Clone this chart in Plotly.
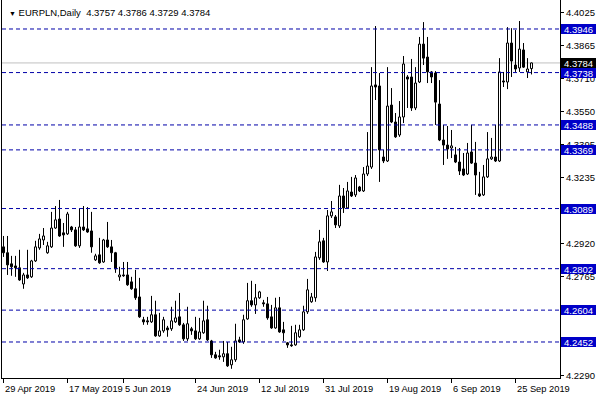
import plotly.graph_objects as go

# ---- data ----
opens = [4.2906, 4.2878, 4.2825, 4.2815, 4.2806, 4.2729, 4.2772, 4.2763, 4.2839, 4.2901,
         4.2939, 4.2878, 4.2906, 4.2996, 4.3039, 4.2973, 4.2968, 4.3001, 4.2987, 4.2911,
         4.3001, 4.2992, 4.2982, 4.2844, 4.2868, 4.2834, 4.2939, 4.2906, 4.2878, 4.2763,
         4.2772, 4.2772, 4.2739, 4.2706, 4.2667, 4.2558, 4.2553, 4.2548, 4.2582, 4.2481,
         4.2505, 4.2519, 4.2515, 4.2548, 4.2572, 4.2534, 4.2467, 4.2515, 4.2505, 4.2467,
         4.2496, 4.2558, 4.2457, 4.2391, 4.2386, 4.2381, 4.2396, 4.2343, 4.2367, 4.2462,
         4.2452, 4.2562, 4.2649, 4.2629, 4.2663, 4.2639, 4.2634, 4.2572, 4.2519, 4.2615,
         4.2510, 4.2448, 4.2438, 4.2438, 4.2477, 4.2510, 4.2596, 4.2644, 4.2663, 4.2854,
         4.2935, 4.2834, 4.3054, 4.3049, 4.3006, 4.3149, 4.3092, 4.3168, 4.3154, 4.3192,
         4.3173, 4.3254, 4.3287, 4.3679, 4.3674, 4.3335, 4.3316, 4.3583, 4.3502, 4.3440,
         4.3526, 4.3717, 4.3717, 4.3569, 4.3693, 4.3874, 4.3812, 4.3741, 4.3736, 4.3588,
         4.3416, 4.3392, 4.3378, 4.3345, 4.3311, 4.3278, 4.3254, 4.3359, 4.3306, 4.3159,
         4.3154, 4.3240, 4.3326, 4.3335, 4.3316, 4.3698, 4.3693, 4.3879, 4.3774, 4.3760,
         4.3846, 4.3741, 4.3757]
highs = [4.2958, 4.2958, 4.2863, 4.2863, 4.2892, 4.2782, 4.2892, 4.2844, 4.2935, 4.2968,
         4.2996, 4.2930, 4.3073, 4.3101, 4.3130, 4.3020, 4.3073, 4.3006, 4.3001, 4.3087,
         4.3101, 4.3096, 4.3073, 4.2873, 4.2949, 4.2944, 4.3025, 4.2939, 4.2882, 4.2811,
         4.2834, 4.2834, 4.2763, 4.2796, 4.2758, 4.2572, 4.2572, 4.2672, 4.2649, 4.2591,
         4.2572, 4.2529, 4.2620, 4.2649, 4.2686, 4.2543, 4.2620, 4.2524, 4.2572, 4.2567,
         4.2649, 4.2625, 4.2462, 4.2405, 4.2415, 4.2457, 4.2452, 4.2429, 4.2539, 4.2477,
         4.2582, 4.2734, 4.2744, 4.2729, 4.2696, 4.2653, 4.2667, 4.2629, 4.2663, 4.2667,
         4.2548, 4.2452, 4.2529, 4.2534, 4.2534, 4.2625, 4.2753, 4.2686, 4.2882, 4.2987,
         4.2949, 4.3082, 4.3125, 4.3058, 4.3202, 4.3187, 4.3216, 4.3240, 4.3249, 4.3197,
         4.3287, 4.3454, 4.3764, 4.3960, 4.3736, 4.3369, 4.3764, 4.3664, 4.3545, 4.3602,
         4.3817, 4.3726, 4.3803, 4.3764, 4.3908, 4.3979, 4.3908, 4.3745, 4.3745, 4.3702,
         4.3488, 4.3483, 4.3464, 4.3383, 4.3378, 4.3354, 4.3402, 4.3488, 4.3407, 4.3264,
         4.3297, 4.3454, 4.3426, 4.3488, 4.3807, 4.3741, 4.3955, 4.3950, 4.3941, 4.3984,
         4.3879, 4.3807, 4.3786]
lows = [4.2858, 4.2772, 4.2768, 4.2763, 4.2744, 4.2706, 4.2753, 4.2758, 4.2834, 4.2892,
        4.2915, 4.2873, 4.2901, 4.2992, 4.2954, 4.2906, 4.2963, 4.2977, 4.2906, 4.2901,
        4.2982, 4.2973, 4.2878, 4.2839, 4.2825, 4.2830, 4.2901, 4.2834, 4.2782, 4.2744,
        4.2763, 4.2720, 4.2701, 4.2653, 4.2567, 4.2534, 4.2534, 4.2543, 4.2477, 4.2477,
        4.2496, 4.2477, 4.2505, 4.2543, 4.2529, 4.2457, 4.2457, 4.2486, 4.2462, 4.2462,
        4.2491, 4.2457, 4.2376, 4.2372, 4.2367, 4.2357, 4.2333, 4.2324, 4.2357, 4.2448,
        4.2443, 4.2558, 4.2620, 4.2586, 4.2658, 4.2620, 4.2558, 4.2515, 4.2515, 4.2496,
        4.2457, 4.2424, 4.2429, 4.2434, 4.2472, 4.2505, 4.2586, 4.2639, 4.2644, 4.2844,
        4.2830, 4.2791, 4.3044, 4.2996, 4.2996, 4.3068, 4.3087, 4.3144, 4.3144, 4.3168,
        4.3168, 4.3244, 4.3278, 4.3607, 4.3216, 4.3306, 4.3311, 4.3497, 4.3426, 4.3431,
        4.3497, 4.3569, 4.3555, 4.3559, 4.3688, 4.3774, 4.3688, 4.3688, 4.3488, 4.3411,
        4.3297, 4.3326, 4.3330, 4.3306, 4.3249, 4.3244, 4.3249, 4.3302, 4.3154, 4.3144,
        4.3149, 4.3235, 4.3321, 4.3311, 4.3311, 4.3669, 4.3659, 4.3717, 4.3741, 4.3741,
        4.3760, 4.3712, 4.3729]
closes = [4.2878, 4.2820, 4.2811, 4.2806, 4.2748, 4.2772, 4.2758, 4.2839, 4.2906, 4.2944,
          4.2958, 4.2911, 4.2996, 4.3035, 4.2958, 4.2963, 4.3063, 4.2987, 4.2911, 4.3001,
          4.2987, 4.2977, 4.2906, 4.2863, 4.2830, 4.2939, 4.2906, 4.2878, 4.2801, 4.2772,
          4.2768, 4.2725, 4.2706, 4.2663, 4.2572, 4.2548, 4.2548, 4.2582, 4.2481, 4.2505,
          4.2558, 4.2510, 4.2553, 4.2567, 4.2534, 4.2467, 4.2539, 4.2505, 4.2467, 4.2500,
          4.2553, 4.2462, 4.2391, 4.2376, 4.2381, 4.2396, 4.2338, 4.2367, 4.2457, 4.2452,
          4.2558, 4.2649, 4.2629, 4.2663, 4.2691, 4.2634, 4.2567, 4.2519, 4.2615, 4.2500,
          4.2496, 4.2438, 4.2434, 4.2496, 4.2510, 4.2596, 4.2701, 4.2667, 4.2858, 4.2930,
          4.2834, 4.3054, 4.3073, 4.3011, 4.3149, 4.3092, 4.3173, 4.3149, 4.3235, 4.3173,
          4.3254, 4.3292, 4.3674, 4.3669, 4.3369, 4.3316, 4.3578, 4.3502, 4.3431, 4.3526,
          4.3779, 4.3707, 4.3569, 4.3688, 4.3874, 4.3807, 4.3741, 4.3717, 4.3597, 4.3416,
          4.3392, 4.3373, 4.3388, 4.3311, 4.3268, 4.3249, 4.3354, 4.3306, 4.3249, 4.3149,
          4.3240, 4.3326, 4.3335, 4.3316, 4.3741, 4.3693, 4.3879, 4.3793, 4.3755, 4.3850,
          4.3764, 4.3755, 4.3784]

date_ticks = [0, 16, 30, 48, 64, 80, 96, 112, 128]
date_labels = ["29 Apr 2019", "17 May 2019", "5 Jun 2019", "24 Jun 2019", "12 Jul 2019",
               "31 Jul 2019", "19 Aug 2019", "6 Sep 2019", "25 Sep 2019"]
level_prices = [4.3946, 4.3738, 4.3488, 4.3369, 4.3089, 4.2802, 4.2604, 4.2452]
price_ticks = [4.4025, 4.3865, 4.3710, 4.3550, 4.3395, 4.3235, 4.3080, 4.2920,
               4.2765, 4.2605, 4.2450, 4.2290]
current_price = 4.3784
title_text = "EURPLN,Daily"

# ---- build ----
FONT = "Liberation Sans"
LEVEL_BLUE = "#0000C8"
LINE_BLUE = "#0000A8"
n = len(opens)
idx = list(range(n))
body_lo = [min(o, c) for o, c in zip(opens, closes)]
body_hi = [max(o, c) for o, c in zip(opens, closes)]
body_h = [h - l for h, l in zip(body_hi, body_lo)]
fill = ["white" if c >= o else "black" for o, c in zip(opens, closes)]

wx, wy = [], []
for i in idx:
    wx += [i, i, None, i, i, None]
    wy += [highs[i], body_hi[i], None, body_lo[i], lows[i], None]

fig = go.Figure()
fig.add_trace(go.Scatter(x=wx, y=wy, mode="lines", line=dict(color="black", width=1),
                         hoverinfo="skip", showlegend=False))
fig.add_trace(go.Bar(x=idx, y=body_h, base=body_lo, width=0.5,
                     marker=dict(color=fill, line=dict(color="black", width=1)),
                     hoverinfo="skip", showlegend=False))

shapes = [dict(type="line", xref="paper", x0=0, x1=1, yref="y", y0=current_price, y1=current_price,
               line=dict(color="#C0C0C0", width=1), layer="below")]
for v in level_prices:
    shapes.append(dict(type="line", xref="paper", x0=0, x1=1, yref="y", y0=v, y1=v,
                       line=dict(color=LINE_BLUE, width=1, dash="4px,3px"), layer="above"))

annotations = [dict(xref="paper", x=1, xanchor="left", xshift=1, yref="y", y=current_price,
                    text=f"{current_price:.4f}", showarrow=False, bgcolor="black",
                    font=dict(family=FONT, size=9.5, color="white"), width=35, height=10,
                    borderpad=0, borderwidth=0)]
for v in level_prices:
    annotations.append(dict(xref="paper", x=1, xanchor="left", xshift=1, yref="y", y=v,
                            text=f"{v:.4f}", showarrow=False, bgcolor=LEVEL_BLUE,
                            font=dict(family=FONT, size=9.5, color="white"), width=35, height=10,
                            borderpad=0, borderwidth=0))
for t, lab in zip(date_ticks, date_labels):
    annotations.append(dict(xref="x", x=t, xanchor="left", xshift=-1, yref="paper", y=0,
                            yanchor="top", yshift=-4, text=lab, showarrow=False,
                            font=dict(family=FONT, size=9.3, color="black")))
annotations.append(dict(xref="paper", x=0, xanchor="left", xshift=5, yref="paper", y=1,
                        yanchor="top", yshift=-5,
                        text='<span style="font-size:7px">▼</span> ' + title_text + "&nbsp; "
                             + " ".join(f"{v:.4f}" for v in (opens[-1], highs[-1], lows[-1], closes[-1])),
                        showarrow=False, font=dict(family=FONT, size=9.5, color="black")))

fig.update_layout(
    width=600, height=400,
    margin=dict(l=2, r=40, t=0, b=22),
    paper_bgcolor="white", plot_bgcolor="white",
    showlegend=False,
    shapes=shapes, annotations=annotations,
    xaxis=dict(range=[-0.375, 139.125], showgrid=False, zeroline=False,
               showline=True, linecolor="black", linewidth=1, mirror=True,
               ticks="outside", ticklen=4, tickcolor="black",
               tickvals=date_ticks, showticklabels=False, fixedrange=True),
    yaxis=dict(range=[4.22801, 4.40844], side="right", showgrid=False, zeroline=False,
               showline=True, linecolor="black", linewidth=1, mirror=True,
               ticks="outside", ticklen=3, tickcolor="black",
               tickvals=price_ticks, ticktext=[f"{v:.4f}" for v in price_ticks],
               tickfont=dict(family=FONT, size=9.5, color="black"), fixedrange=True),
)

fig.write_html("out.html", config={"displayModeBar": False},
               post_script="document.body.style.margin='0';document.body.style.overflow='hidden';")
